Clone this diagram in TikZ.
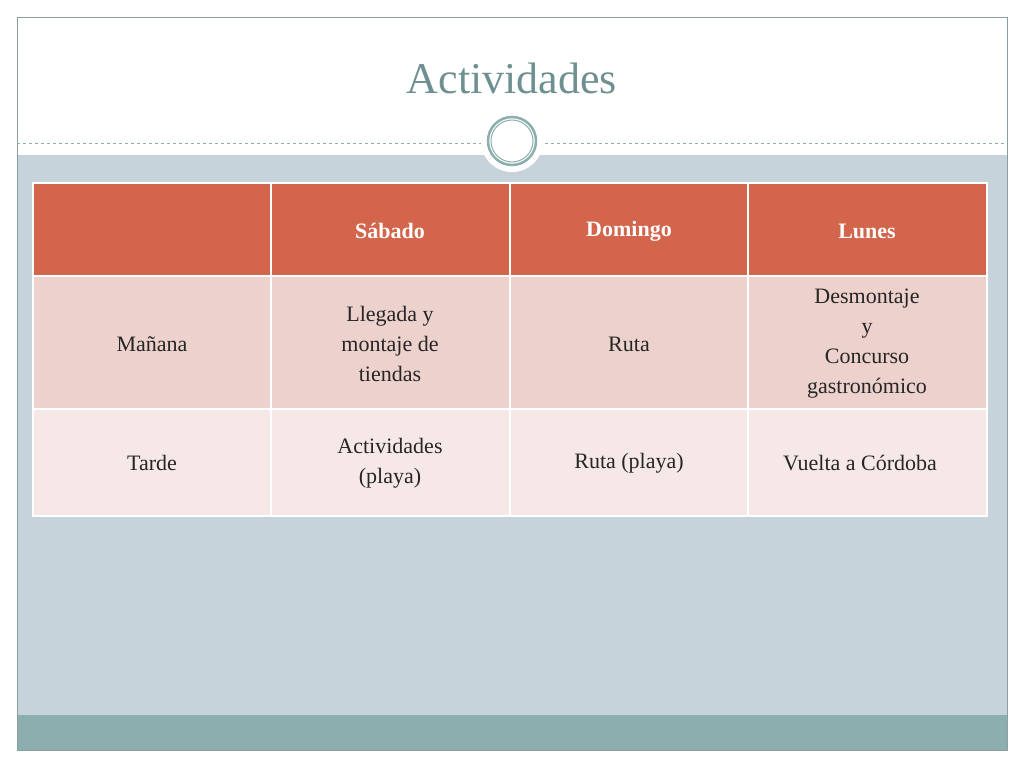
\documentclass[tikz,border=0pt]{standalone}
\usepackage{fontspec}
\setmainfont{Liberation Serif}
\begin{document}
\begin{tikzpicture}[x=1pt,y=-1pt,
  cell/.style={draw=white,line width=1.5pt},
  txt/.style={align=center,font=\fontsize{22}{30}\selectfont,text=black!85},
  head/.style={align=center,font=\fontsize{22}{30}\selectfont\bfseries,text=white}]
\definecolor{bg}{HTML}{C7D3DA}
\definecolor{band}{HTML}{8CAEAE}
\definecolor{hd}{HTML}{D2654B}
\definecolor{ra}{HTML}{EDD1CC}
\definecolor{rb}{HTML}{F6E8E6}
\definecolor{tt}{HTML}{6F9090}
\useasboundingbox (0,0) rectangle (1024,768);
\fill[white] (0,0) rectangle (1024,768);
\fill[bg] (17,155) rectangle (1007,715);
\fill[band] (17,715) rectangle (1007,750);
\draw[band!70!gray,line width=0.6pt] (17,17) rectangle (1007,750);
\draw[band,dashed,line width=0.6pt] (17,143) -- (1007,143);
\node[circle,fill=white,minimum size=62pt,inner sep=0pt] (c0) at (512,141) {};
\node[circle,draw=band,line width=2.5pt,fill=white,minimum size=48pt,inner sep=0pt] (c1) at (512,141) {};
\node[circle,draw=band,line width=1pt,minimum size=42pt,inner sep=0pt] (c2) at (512,141) {};
\node[text=tt,font=\fontsize{44}{50}\selectfont] (title) at (512,78) {Actividades};
% table
\def\xs{{33,271,510,748,987}}
\foreach \a/\b in {33/271,271/510,510/748,748/987}{
  \fill[hd] (\a,183) rectangle (\b,276);
  \fill[ra] (\a,276) rectangle (\b,409);
  \fill[rb] (\a,409) rectangle (\b,516);
  \draw[cell] (\a,183) rectangle (\b,276);
  \draw[cell] (\a,276) rectangle (\b,409);
  \draw[cell] (\a,409) rectangle (\b,516);
}
\node[head] (h1) at (390,231) {Sábado};
\node[head] (h2) at (629,231) {Domingo};
\node[head] (h3) at (867,231) {Lunes};
\node[txt] (m0) at (152,344) {Mañana};
\node[txt] (m1) at (390,344) {Llegada y\\montaje de\\tiendas};
\node[txt] (m2) at (629,344) {Ruta};
\node[txt] (m3) at (867,344) {Desmontaje\\y\\Concurso\\gastronómico};
\node[txt] (t0) at (152,463) {Tarde};
\node[txt] (t1) at (390,463) {Actividades\\(playa)};
\node[txt] (t2) at (629,463) {Ruta (playa)};
\node[txt] (t3) at (860,463) {Vuelta a Córdoba};
\end{tikzpicture}
\end{document}
